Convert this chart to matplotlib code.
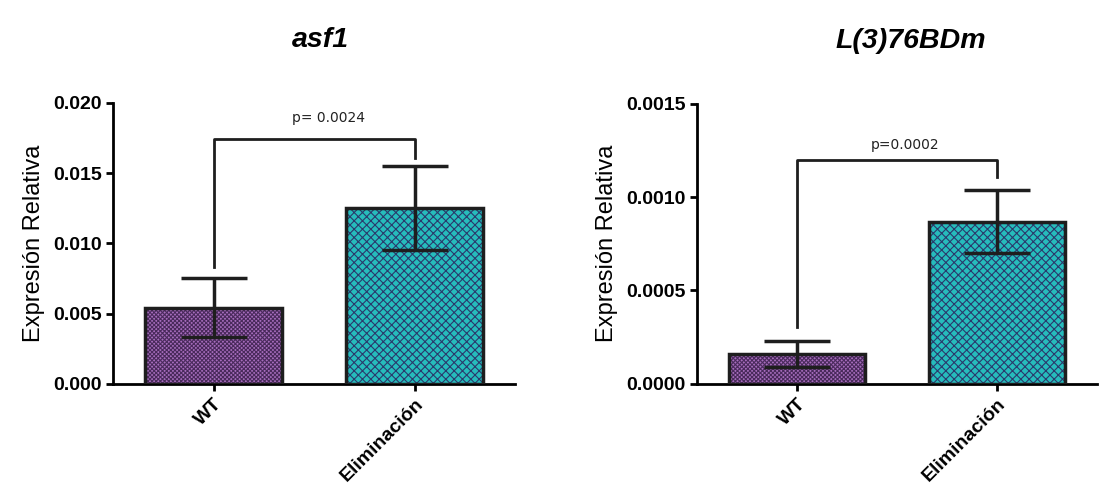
import matplotlib.pyplot as plt

plt.rcParams['font.family'] = ['Liberation Sans', 'DejaVu Sans']

grupos = ["WT", "Eliminación"]

# asf1
asf1_media = [0.0054, 0.0125]
asf1_sd = [0.0021, 0.0030]
asf1_p = "p= 0.0024"

# L(3)76BDm
l3_media = [0.000160, 0.000868]
l3_sd = [0.000068, 0.000168]
l3_p = "p=0.0002"

relleno = ["#a66cbc", "#26bcbc"]
trama_color = ["#4a2a5c", "#2a3a6c"]
tramas = ["xxxxxxxx", "xxxx"]

plt.rcParams['hatch.linewidth'] = 0.8

fig = plt.figure(figsize=(10.99, 4.94), dpi=100)
ax1 = fig.add_axes([0.103, 0.223, 0.366, 0.569])
ax2 = fig.add_axes([0.634, 0.223, 0.364, 0.567])


def panel(ax, medias, sds, titulo, titulo_x, ymax, yticks, fmt, ptexto, barra_y, pierna_izq, pierna_der, texto_x, texto_y):
    x = [0, 1]
    for i in range(2):
        ax.bar(x[i], medias[i], width=0.68, color=relleno[i], edgecolor=trama_color[i],
               hatch=tramas[i], linewidth=0, zorder=2)
        ax.bar(x[i], medias[i], width=0.68, fill=False, edgecolor="#1e1e1e",
               linewidth=2.5, zorder=3)
    ax.errorbar(x, medias, yerr=sds, fmt="none", ecolor="#1e1e1e", elinewidth=2.5,
                capsize=24, capthick=2.5, zorder=4)
    # corchete de significancia
    ax.plot([0, 0, 1, 1], [pierna_izq, barra_y, barra_y, pierna_der], color="#1e1e1e",
            lw=2, zorder=5, clip_on=False)
    ax.text(texto_x, texto_y, ptexto, ha="center", va="center", fontsize=10,
            color="#222222", family=["Liberation Sans Narrow", "DejaVu Sans"])

    ax.set_xlim(-0.5, 1.5)
    ax.set_ylim(0, ymax)
    ax.set_yticks(yticks)
    ax.set_yticklabels([fmt.format(v) for v in yticks], fontsize=14, fontweight="bold")
    ax.set_xticks(x)
    ax.set_xticklabels(grupos, rotation=45, ha="right", rotation_mode="anchor",
                       fontsize=14, fontweight="bold")
    ax.set_ylabel("Expresión Relativa", fontsize=17, labelpad=6)
    ax.set_title(titulo, x=titulo_x, fontsize=20.5, fontstyle="italic", fontweight="bold", pad=40)
    for s in ["top", "right"]:
        ax.spines[s].set_visible(False)
    for s in ["left", "bottom"]:
        ax.spines[s].set_linewidth(2)
    ax.tick_params(width=2, length=5, pad=3)


panel(ax1, asf1_media, asf1_sd, "asf1", 0.515, 0.020, [0, 0.005, 0.010, 0.015, 0.020], "{:.3f}",
      asf1_p, 0.01744, 0.0083, 0.0161, 0.57, 0.0189)
panel(ax2, l3_media, l3_sd, "L(3)76BDm", 0.535, 0.0015, [0, 0.0005, 0.0010, 0.0015], "{:.4f}",
      l3_p, 0.00120, 0.000305, 0.00111, 0.54, 0.00128)

fig.savefig("out.png", dpi=100)
